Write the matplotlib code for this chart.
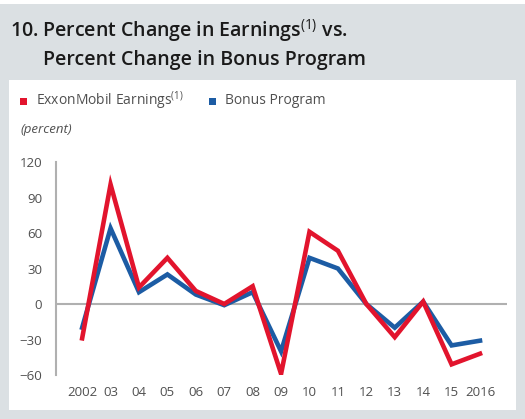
import matplotlib
matplotlib.use("Agg")
import matplotlib.pyplot as plt
from matplotlib.patches import Rectangle

plt.rcParams['font.family'] = ['Open Sans', 'DejaVu Sans']
plt.rcParams['mathtext.fontset'] = 'custom'
plt.rcParams['mathtext.rm'] = 'Open Sans'

# data
years = list(range(2002, 2017))
year_labels = ['2002', '03', '04', '05', '06', '07', '08', '09', '10', '11',
               '12', '13', '14', '15', '2016']
earnings = [-29, 101, 14, 39, 11, 0, 15, -59, 61, 45, 0, -28, 2, -51, -42]
bonus = [-20, 64, 10, 25, 8, -1, 10, -40, 39, 30, 0, -20, 2, -35, -31]
yticks = [120, 90, 60, 30, 0, -30, -60]

RED = '#e2142d'
BLUE = '#1c5ca4'
GRAY_BG = '#dbe0e3'
TXT = '#505050'

W, H = 525, 419
fig = plt.figure(figsize=(W / 100, H / 100), dpi=100, facecolor=GRAY_BG)

# white top strip and white plot panel (behind the axes)
fig.patches.append(Rectangle((0, 1 - 4 / H), 1, 4 / H, transform=fig.transFigure,
                             facecolor='white', edgecolor='none', zorder=-5))
fig.patches.append(Rectangle((9 / W, 1 - 410 / H), (516 - 9) / W, (410 - 80) / H,
                             transform=fig.transFigure, facecolor='white',
                             edgecolor='none', zorder=-5))

# title
fig.text(10 / W, 1 - 31 / H, '10. Percent Change in Earnings$^{(1)}$ vs.',
         fontsize=14, fontweight='semibold', color='#1a1a1a', va='center')
fig.text(43 / W, 1 - 60 / H, 'Percent Change in Bonus Program',
         fontsize=14, fontweight='semibold', color='#1a1a1a', va='center')

# legend
fig.patches.append(Rectangle((20 / W, 1 - 105 / H), 7 / W, 7 / H, transform=fig.transFigure,
                             facecolor=RED, edgecolor='none'))
fig.text(36 / W, 1 - 101 / H, 'ExxonMobil Earnings$^{(1)}$', fontsize=10,
         color=TXT, va='center')
fig.patches.append(Rectangle((209 / W, 1 - 105 / H), 7 / W, 7 / H, transform=fig.transFigure,
                             facecolor=BLUE, edgecolor='none'))
fig.text(225 / W, 1 - 101 / H, 'Bonus Program', fontsize=10, color=TXT, va='center')
fig.text(20 / W, 1 - 129 / H, '(percent)', fontsize=9.5, style='italic',
         color=TXT, va='center')

ax = fig.add_axes([56 / W, 1 - 375 / H, (507 - 56) / W, (375 - 162) / H])
ax.set_facecolor('none')
ax.plot(years, bonus, color=BLUE, lw=3.3, solid_joinstyle='miter', zorder=3)
ax.plot(years, earnings, color=RED, lw=3.3, solid_joinstyle='miter', zorder=4)
ax.axhline(0, color='#b0b0b0', lw=1.5, zorder=1)

ax.set_xlim(2001.08, 2016.95)
ax.set_ylim(-60, 120)
ax.set_yticks(yticks)
ax.set_yticklabels([str(v).replace('-', '\u2212') for v in yticks])
ax.set_xticks(years)
ax.set_xticklabels(year_labels)
ax.tick_params(axis='both', length=0, labelsize=9.5, colors=TXT)
ax.tick_params(axis='x', pad=8)
ax.tick_params(axis='y', pad=10)

for s in ['top', 'right', 'bottom']:
    ax.spines[s].set_visible(False)
ax.spines['left'].set_color('#b0b0b0')
ax.spines['left'].set_linewidth(1.5)

fig.savefig('out.png', dpi=100, facecolor=GRAY_BG)
